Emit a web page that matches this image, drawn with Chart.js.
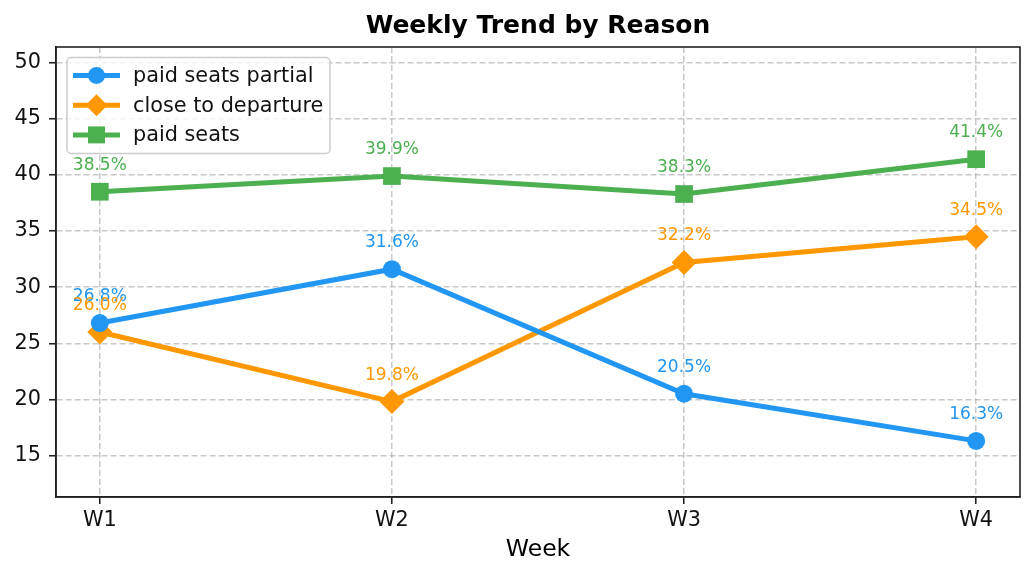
<!DOCTYPE html>
<html>
<head>
<meta charset="utf-8">
<script src="https://cdn.jsdelivr.net/npm/chart.js@4/dist/chart.umd.min.js"></script>
<style>
  html, body { margin: 0; padding: 0; background: #fff; }
  canvas { display: block; }
</style>
</head>
<body>
<canvas id="chart" width="1035" height="579"></canvas>
<script>
var weeks = ['W1', 'W2', 'W3', 'W4'];
var paidSeatsPartial = [26.8, 31.6, 20.5, 16.3];
var closeToDeparture = [26.0, 19.8, 32.2, 34.5];
var paidSeats = [38.5, 39.9, 38.3, 41.4];
var yTicks = [15, 20, 25, 30, 35, 40, 45, 50];

var FONT = '"DejaVu Sans", sans-serif';

var series = [
    {label: 'paid seats partial', data: paidSeatsPartial, color: '#2196F3', style: 'circle', radius: 9},
    {label: 'close to departure', data: closeToDeparture, color: '#FF9800', style: 'rectRot', radius: 12.5},
    {label: 'paid seats', data: paidSeats, color: '#4CAF50', style: 'rect', radius: 12.5}
];

var datasets = series.map(function(s) {
    return {
        label: s.label,
        data: s.data.map(function(v, i) { return {x: i, y: v}; }),
        borderColor: s.color,
        backgroundColor: s.color,
        borderWidth: 5,
        pointStyle: s.style,
        pointRadius: s.radius,
        pointHoverRadius: s.radius,
        pointBorderWidth: 0,
        pointBackgroundColor: s.color,
        tension: 0
    };
});

// little marker drawer for the legend
function marker(ctx, style, x, y, r) {
    ctx.beginPath();
    if (style === 'circle') {
        ctx.arc(x, y, r, 0, Math.PI * 2);
    } else if (style === 'rectRot') {
        ctx.moveTo(x - r, y);
        ctx.lineTo(x, y - r);
        ctx.lineTo(x + r, y);
        ctx.lineTo(x, y + r);
        ctx.closePath();
    } else {
        var s = r * Math.SQRT1_2;
        ctx.rect(x - s, y - s, 2 * s, 2 * s);
    }
    ctx.fill();
}

var extras = {
    id: 'extras',
    afterDatasetsDraw: function(chart) {
        var ctx = chart.ctx;
        var xs = chart.scales.x, ys = chart.scales.y;
        var a = chart.chartArea;

        // value labels
        ctx.save();
        ctx.font = '17px ' + FONT;
        ctx.textAlign = 'center';
        ctx.textBaseline = 'middle';
        series.forEach(function(s) {
            ctx.fillStyle = s.color;
            s.data.forEach(function(v, i) {
                ctx.fillText(v.toFixed(1) + '%', xs.getPixelForValue(i), ys.getPixelForValue(v) - 26.5);
            });
        });
        ctx.restore();

        // frame
        ctx.save();
        ctx.strokeStyle = '#222';
        ctx.lineWidth = 1.6;
        ctx.strokeRect(a.left, a.top, a.right - a.left, a.bottom - a.top);
        ctx.restore();

        // legend
        ctx.save();
        var lx = 67, ly = 57.5, lw = 263, lh = 96;
        ctx.beginPath();
        ctx.roundRect(lx, ly, lw, lh, 4);
        ctx.fillStyle = 'rgba(255,255,255,0.8)';
        ctx.fill();
        ctx.strokeStyle = '#cccccc';
        ctx.lineWidth = 1.5;
        ctx.stroke();
        ctx.font = '20.8px ' + FONT;
        ctx.textBaseline = 'middle';
        series.forEach(function(s, i) {
            var y = 75.5 + i * 29.7;
            ctx.strokeStyle = s.color;
            ctx.fillStyle = s.color;
            ctx.lineWidth = 5;
            ctx.beginPath();
            ctx.moveTo(73, y);
            ctx.lineTo(120, y);
            ctx.stroke();
            marker(ctx, s.style, 96.5, y, s.style === 'circle' ? 8.5 : (s.style === 'rect' ? 12 : 11));
            ctx.fillStyle = '#111';
            ctx.fillText(s.label, 133, y + 1);
        });
        ctx.restore();

        // title and x axis title
        ctx.save();
        ctx.fillStyle = '#000';
        ctx.textAlign = 'center';
        ctx.textBaseline = 'middle';
        ctx.font = 'bold 25px ' + FONT;
        ctx.fillText('Weekly Trend by Reason', (a.left + a.right) / 2, 26.5);
        ctx.font = '23.5px ' + FONT;
        ctx.fillText('Week', (a.left + a.right) / 2, 550);
        ctx.restore();
    }
};

var ctx = document.getElementById('chart').getContext('2d');

var chart = new Chart(ctx, {
    type: 'line',
    data: {datasets: datasets},
    options: {
        responsive: false,
        animation: false,
        devicePixelRatio: 1,
        layout: {padding: {left: 0, right: 15, top: 47, bottom: 0}},
        plugins: {
            legend: {display: false},
            title: {display: false},
            tooltip: {enabled: false}
        },
        scales: {
            x: {
                type: 'linear',
                min: -0.15,
                max: 3.15,
                afterBuildTicks: function(scale) {
                    scale.ticks = weeks.map(function(w, i) { return {value: i}; });
                },
                afterFit: function(scale) { scale.height = 82; },
                ticks: {
                    color: '#111',
                    font: {family: FONT, size: 20.8},
                    padding: 4,
                    maxRotation: 0,
                    callback: function(v) { return weeks[v]; }
                },
                grid: {
                    color: 'rgba(176,176,176,0.7)',
                    lineWidth: 1.5,
                    tickColor: '#222',
                    tickLength: 7,
                    tickWidth: 1.6
                },
                border: {color: '#222', width: 1.6, dash: [6, 3]}
            },
            y: {
                min: 11.3,
                max: 51.4,
                afterBuildTicks: function(scale) {
                    scale.ticks = yTicks.map(function(v) { return {value: v}; });
                },
                afterFit: function(scale) { scale.width = 56; },
                ticks: {
                    color: '#111',
                    font: {family: FONT, size: 20.8},
                    padding: 8
                },
                grid: {
                    color: 'rgba(176,176,176,0.7)',
                    lineWidth: 1.5,
                    tickColor: '#222',
                    tickLength: 7,
                    tickWidth: 1.6
                },
                border: {color: '#222', width: 1.6, dash: [6, 3]}
            }
        }
    },
    plugins: [extras]
});
</script>
</body>
</html>
